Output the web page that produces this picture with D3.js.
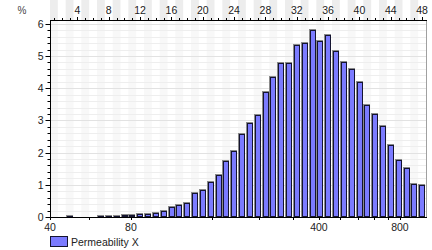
<!DOCTYPE html>
<html>
<head>
<meta charset="utf-8">
<script src="https://cdn.jsdelivr.net/npm/d3@7"></script>
<style>
  body { margin: 0; background: #fff; }
  text { font-family: "Liberation Sans", Arial, sans-serif; }
</style>
</head>
<body>
<svg id="chart" width="432" height="250"></svg>
<script>
// bin index 1..48, percent per bin
const binIndex = d3.range(1, 49);
const percent = [0, 0, 0.02, 0, 0, 0, 0.03, 0.03, 0.03, 0.05,
  0.07, 0.08, 0.1, 0.13, 0.2, 0.3, 0.37, 0.45, 0.75, 0.83,
  1.1, 1.29, 1.73, 2.05, 2.57, 2.93, 3.17, 3.87, 4.34, 4.79,
  4.79, 5.35, 5.42, 5.82, 5.46, 5.66, 5.17, 4.81, 4.61, 4.2,
  3.49, 3.19, 2.84, 2.25, 1.76, 1.52, 1.04, 0.98];
const permRange = [40, 1000];
const bottomLabels = [40, 80, 400, 800];
const bottomMinor = [56, 160, 240, 320, 480, 560, 640, 720];
const topLabels = [4, 8, 12, 16, 20, 24, 28, 32, 36, 40, 44, 48];
const yTicks = [0, 1, 2, 3, 4, 5, 6];
const seriesName = "Permeability X";

const svg = d3.select("#chart");
const pLeft = 50, pRight = 426, pTop = 20, pBottom = 217;

const x = d3.scaleLog().domain(permRange).range([pLeft, pRight]);
const xb = d3.scaleBand().domain(binIndex).range([pLeft, pRight]).paddingInner(0);
const y = d3.scaleLinear().domain([0, 6.12]).range([pBottom, pTop]);
const bw = xb.bandwidth();

// top strip bands
svg.selectAll(".topband").data(binIndex.filter(d => d % 2 == 1)).enter().append("rect")
  .attr("x", d => xb(d)).attr("y", 0).attr("width", bw).attr("height", pTop)
  .attr("fill", "#ededed");

// faint plot columns
svg.selectAll(".colband").data(binIndex.filter(d => d % 2 == 1)).enter().append("rect")
  .attr("x", d => xb(d)).attr("y", pTop).attr("width", bw).attr("height", pBottom - pTop)
  .attr("fill", "#f8f8f8");

// horizontal grid
const minorY = d3.range(0, 6.2, 0.2);
svg.selectAll(".hgrid").data(minorY).enter().append("line")
  .attr("x1", pLeft).attr("x2", pRight)
  .attr("y1", d => Math.round(y(d)) + 0.5).attr("y2", d => Math.round(y(d)) + 0.5)
  .attr("stroke", (d) => Math.abs(d - Math.round(d)) < 1e-6 ? "#e2e2e2" : "#eeeeee");

// bars
const bars = svg.selectAll(".bar").data(binIndex.map((b, i) => ({ b: b, v: percent[i] })).filter(d => d.v > 0))
  .enter().append("g");
const barW = bw * 0.72;
bars.append("rect")
  .attr("x", d => Math.round(xb(d.b) + (bw - barW) / 2) - 0.5)
  .attr("y", d => Math.round(y(d.v)) - 0.5)
  .attr("width", Math.round(barW))
  .attr("height", d => Math.max(1, pBottom - Math.round(y(d.v))))
  .attr("fill", "none").attr("stroke", "#8a8a8a");
bars.append("rect")
  .attr("x", d => Math.round(xb(d.b) + (bw - barW) / 2) + 0.5)
  .attr("y", d => Math.round(y(d.v)) + 0.5)
  .attr("width", Math.round(barW) - 1)
  .attr("height", d => Math.max(0.5, pBottom - Math.round(y(d.v)) - 1))
  .attr("fill", "#7b7bff").attr("stroke", "#141430");

// right border
svg.append("line").attr("x1", pRight + 0.5).attr("x2", pRight + 0.5).attr("y1", pTop).attr("y2", pBottom)
  .attr("stroke", "#a0a0a0");

// left axis
const yAxis = svg.append("g").attr("transform", `translate(${pLeft + 0.5},0)`);
yAxis.append("line").attr("y1", pTop).attr("y2", pBottom + 1).attr("stroke", "#000");
yAxis.selectAll(".ymin").data(minorY).enter().append("line")
  .attr("x1", d => Math.abs(d - Math.round(d)) < 1e-6 ? -5 : -3).attr("x2", 0)
  .attr("y1", d => Math.round(y(d)) + 0.5).attr("y2", d => Math.round(y(d)) + 0.5)
  .attr("stroke", "#000");
yAxis.selectAll(".ylab").data(yTicks).enter().append("text")
  .attr("x", -7).attr("y", d => y(d) + 4)
  .attr("text-anchor", "end").attr("font-size", 10.5).attr("fill", "#222")
  .text(d => d);
svg.append("text").attr("x", 22).attr("y", 14).attr("text-anchor", "middle")
  .attr("font-size", 10).attr("fill", "#444").text("%");

// top axis (bin index)
svg.append("line").attr("x1", pLeft).attr("x2", pRight + 1).attr("y1", pTop + 0.5).attr("y2", pTop + 0.5)
  .attr("stroke", "#000");
svg.selectAll(".ttick").data(binIndex).enter().append("line")
  .attr("x1", d => Math.round(xb(d) + bw / 2) + 0.5).attr("x2", d => Math.round(xb(d) + bw / 2) + 0.5)
  .attr("y1", d => d % 4 == 0 ? pTop - 3 : pTop - 2).attr("y2", pTop)
  .attr("stroke", "#000");
svg.selectAll(".tlab").data(topLabels).enter().append("text")
  .attr("x", d => xb(d) + bw / 2).attr("y", 14)
  .attr("text-anchor", "middle").attr("font-size", 10.5).attr("fill", "#222")
  .text(d => d);

// bottom axis (log permeability)
svg.append("line").attr("x1", pLeft).attr("x2", pRight + 1).attr("y1", pBottom + 0.5).attr("y2", pBottom + 0.5)
  .attr("stroke", "#000");
svg.selectAll(".bmin").data(bottomMinor.concat(bottomLabels)).enter().append("line")
  .attr("x1", d => Math.round(x(d)) + 0.5).attr("x2", d => Math.round(x(d)) + 0.5)
  .attr("y1", pBottom).attr("y2", pBottom + 3)
  .attr("stroke", "#000");
svg.selectAll(".blab").data(bottomLabels).enter().append("text")
  .attr("x", d => x(d)).attr("y", 231)
  .attr("text-anchor", "middle").attr("font-size", 10.5).attr("fill", "#222")
  .text(d => d);

// legend
svg.append("rect").attr("x", 50.5).attr("y", 236.5).attr("width", 17).attr("height", 10)
  .attr("fill", "#7b7bff").attr("stroke", "#141430");
svg.append("text").attr("x", 71).attr("y", 246).attr("font-size", 10.5).attr("fill", "#222")
  .text(seriesName);
</script>
</body>
</html>
